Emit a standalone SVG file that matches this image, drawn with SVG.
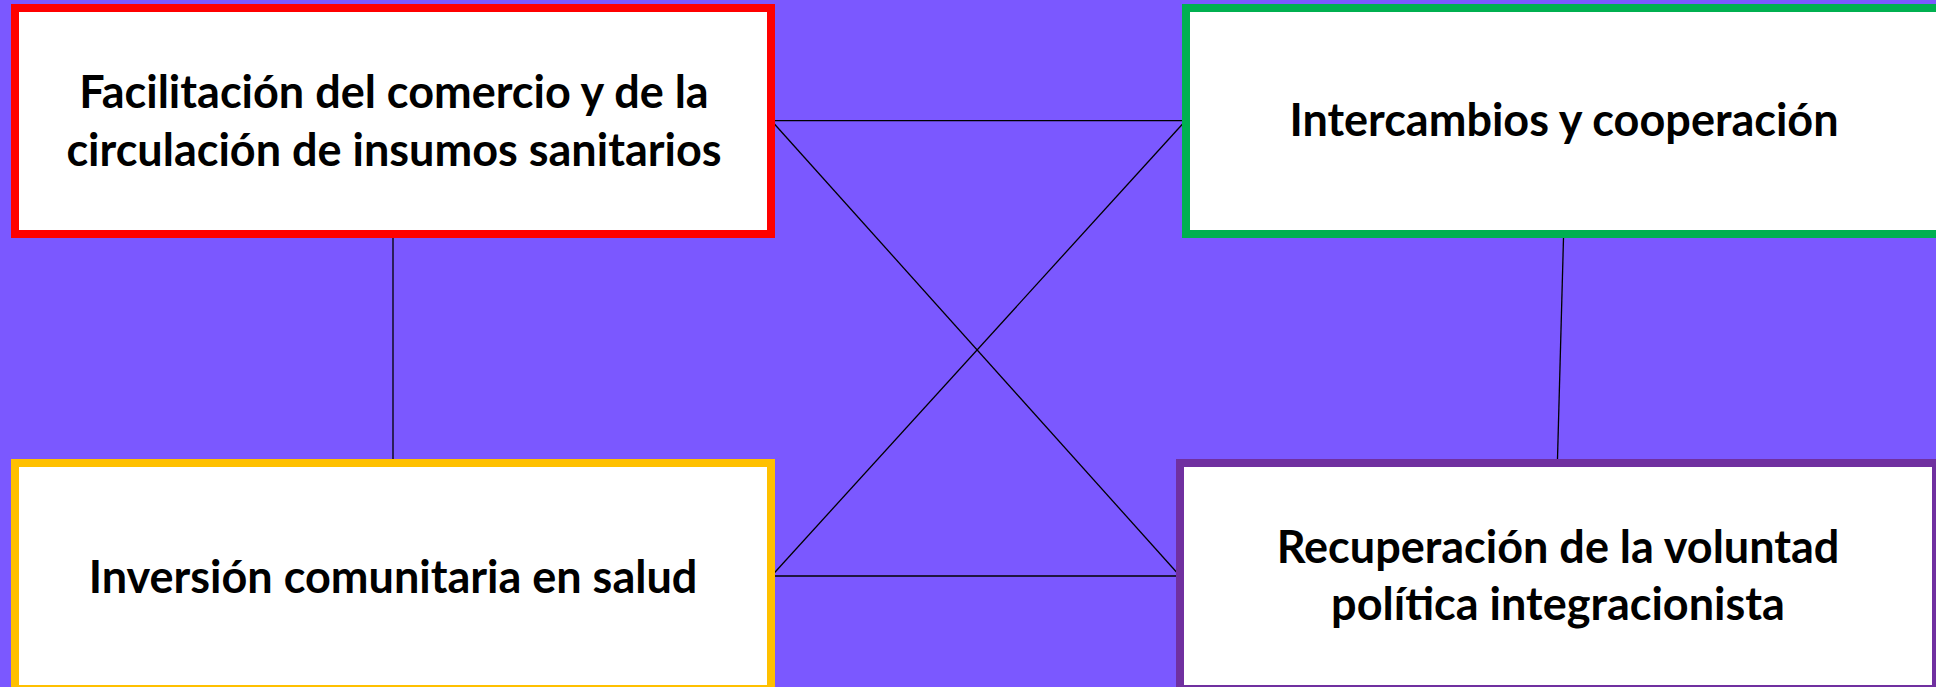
<svg xmlns="http://www.w3.org/2000/svg" width="1936" height="687" viewBox="0 0 1936 687">
<style>
.box{fill:#ffffff;stroke-width:8}
.t{font-family:Lato,"Open Sans","Liberation Sans",sans-serif;font-weight:bold;font-size:45px;fill:#000000;text-anchor:middle}
.c{stroke:#000000;stroke-width:1.3;fill:none}
</style>
<rect x="0" y="0" width="1936" height="687" fill="#7B58FF"/>
<g id="connectors">
<line class="c" x1="771.5" y1="120.7" x2="1185.5" y2="120.7"/>
<line class="c" x1="771.5" y1="576" x2="1180" y2="576"/>
<line class="c" x1="771.5" y1="120.7" x2="1180" y2="576"/>
<line class="c" x1="1185.5" y1="120.7" x2="771.5" y2="576"/>
<line class="c" x1="393" y1="238" x2="393" y2="459"/>
<line class="c" x1="1563.5" y1="238" x2="1557.5" y2="459"/>
</g>
<g id="node-facilitacion">
<rect class="box" x="15" y="8" width="756" height="226" stroke="#FF0000"/>
<text class="t" x="394" y="108">Facilitación del comercio y de la</text>
<text class="t" x="394" y="166">circulación de insumos sanitarios</text>
</g>
<g id="node-intercambios">
<rect class="box" x="1186" y="8" width="756" height="226" stroke="#00B050"/>
<text class="t" x="1564" y="136">Intercambios y cooperación</text>
</g>
<g id="node-inversion">
<rect class="box" x="15" y="463" width="756" height="226" stroke="#FFC000"/>
<text class="t" x="393" y="593">Inversión comunitaria en salud</text>
</g>
<g id="node-recuperacion">
<rect class="box" x="1180" y="463" width="756" height="226" stroke="#7030A0"/>
<text class="t" x="1558" y="563">Recuperación de la voluntad</text>
<text class="t" x="1558" y="620">política integracionista</text>
</g>
</svg>
